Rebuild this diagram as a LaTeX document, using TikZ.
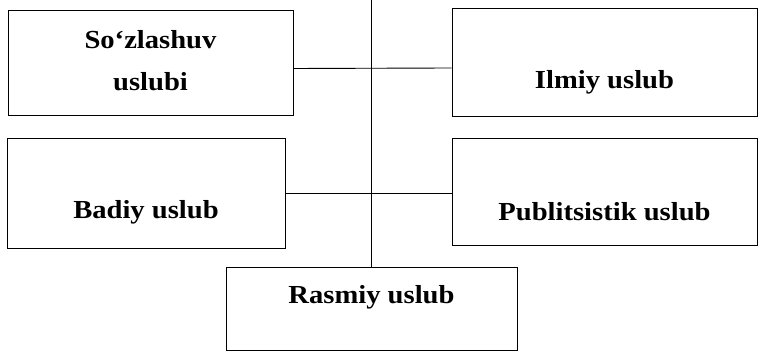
\documentclass[tikz,border=0pt]{standalone}
\usepackage{fontspec}
\setmainfont{Liberation Serif}[FakeStretch=1.1]
\begin{document}
\begin{tikzpicture}[x=1pt,y=-1pt,
  stylebox/.style={draw, line width=0.9pt, inner sep=0pt, minimum width=#1},
  boxtext/.style={font=\fontsize{26}{42}\selectfont\bfseries, align=center}]
  \useasboundingbox (0,0) rectangle (758,352);
  % boxes
  \node[stylebox=285pt, minimum height=105pt] (so) at (150.5,62.5) {};
  \node[stylebox=305pt, minimum height=108pt] (ilmiy) at (604.5,62) {};
  \node[stylebox=278pt, minimum height=110pt] (badiy) at (146,193) {};
  \node[stylebox=305pt, minimum height=107pt] (publ) at (604.5,191.5) {};
  \node[stylebox=291pt, minimum height=83pt] (rasmiy) at (371.5,308.5) {};
  % texts
  \node[boxtext] (so text) at ([yshift=1.5pt]so.center) {So‘zlashuv\\uslubi};
  \node[boxtext] (ilmiy text) at ([yshift=-20pt]ilmiy.center) {Ilmiy uslub};
  \node[boxtext] (badiy text) at ([yshift=-19pt]badiy.center) {Badiy uslub};
  \node[boxtext] (publ text) at ([yshift=-20pt]publ.center) {Publitsistik uslub};
  \node[boxtext] (rasmiy text) at ([yshift=11pt]rasmiy.center) {Rasmiy uslub};
  % connectors
  \coordinate (top) at (371.5,0);
  \draw[line width=0.9pt] (top) -- (rasmiy.north);
  \draw[line width=0.9pt] ([yshift=-6pt]so.east) -- ([yshift=-6pt]ilmiy.west);
  \draw[line width=0.9pt] (badiy.east) -- (badiy.east -| publ.west);
\end{tikzpicture}
\end{document}
